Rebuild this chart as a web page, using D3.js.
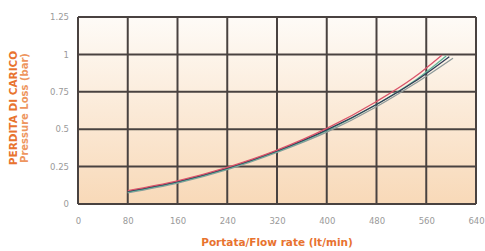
<!DOCTYPE html>
<html>
<head>
<meta charset="utf-8">
<script src="https://cdn.jsdelivr.net/npm/d3@7"></script>
<style>
  body { margin: 0; background: #fff; }
  svg { display: block; }
</style>
</head>
<body>
<div id="chart"></div>
<script>
const xTicks = [0, 80, 160, 240, 320, 400, 480, 560, 640];
const yTicks = [0, 0.25, 0.5, 0.75, 1, 1.25];

// four loss curves (flow lt/min, loss bar)
const redFlow = [80, 160, 240, 320, 400, 480, 540, 585];
const redLoss = [0.09, 0.155, 0.245, 0.36, 0.505, 0.685, 0.845, 0.995];
const greenFlow = [80, 160, 240, 320, 400, 480, 540, 592];
const greenLoss = [0.08, 0.145, 0.235, 0.35, 0.49, 0.665, 0.82, 0.99];
const darkFlow = [80, 160, 240, 320, 400, 480, 540, 597];
const darkLoss = [0.085, 0.15, 0.24, 0.355, 0.495, 0.665, 0.815, 0.985];
const grayFlow = [80, 160, 240, 320, 400, 480, 540, 603];
const grayLoss = [0.075, 0.14, 0.23, 0.345, 0.48, 0.65, 0.80, 0.975];

const series = [
    { flow: grayFlow, loss: grayLoss, color: "#8f9a9a" },
    { flow: greenFlow, loss: greenLoss, color: "#5fb59a" },
    { flow: darkFlow, loss: darkLoss, color: "#2f3d57" },
    { flow: redFlow, loss: redLoss, color: "#d9546a" },
];

const size = { width: 485, height: 251, margin: { top: 17, right: 9, bottom: 47, left: 78 } };

const svg = d3.select("#chart").append("svg")
    .attr("width", size.width)
    .attr("height", size.height);

const x = d3.scaleLinear().domain([0, 640]).range([size.margin.left, size.width - size.margin.right]);
const y = d3.scaleLinear().domain([0, 1.25]).range([size.height - size.margin.bottom, size.margin.top]);

const defs = svg.append("defs");
const grad = defs.append("linearGradient")
    .attr("id", "bg").attr("x1", "0%").attr("y1", "0%").attr("x2", "0%").attr("y2", "100%");
grad.append("stop").attr("offset", "0%").attr("stop-color", "#fefbf7");
grad.append("stop").attr("offset", "100%").attr("stop-color", "#f8d9b8");

defs.append("filter").attr("id", "soft")
    .append("feGaussianBlur").attr("stdDeviation", 0.5);

svg.append("rect")
    .attr("x", x(0)).attr("y", y(1.25))
    .attr("width", x(640) - x(0)).attr("height", y(0) - y(1.25))
    .attr("fill", "url(#bg)");

// grid
const grid = svg.append("g").attr("filter", "url(#soft)");
grid.selectAll("line.v").data(xTicks).enter().append("line")
    .attr("x1", d => x(d)).attr("x2", d => x(d))
    .attr("y1", y(0)).attr("y2", y(1.25))
    .attr("stroke", "#4a4340").attr("stroke-width", 2);
grid.selectAll("line.h").data(yTicks).enter().append("line")
    .attr("x1", x(0)).attr("x2", x(640))
    .attr("y1", d => y(d)).attr("y2", d => y(d))
    .attr("stroke", "#4a4340").attr("stroke-width", 2);

// curves
const line = d3.line().x(d => x(d[0])).y(d => y(d[1])).curve(d3.curveMonotoneX);
svg.append("g").attr("filter", "url(#soft)")
    .selectAll("path").data(series).enter().append("path")
    .attr("d", s => line(s.flow.map((f, i) => [f, s.loss[i]])))
    .attr("fill", "none")
    .attr("stroke", s => s.color)
    .attr("stroke-width", 1.3);

// axes labels
const xAxis = d3.axisBottom(x).tickValues(xTicks).tickSize(0).tickPadding(0)
    .tickFormat(d => d);
svg.append("g").attr("transform", `translate(0, ${y(0) + 14})`).call(xAxis)
    .call(g => g.select(".domain").remove())
    .selectAll("text")
    .attr("font-family", "DejaVu Sans").attr("font-size", 8.5).attr("fill", "#9a9a9a");

const yAxis = d3.axisLeft(y).tickValues(yTicks).tickSize(0).tickPadding(0)
    .tickFormat(d => d);
svg.append("g").attr("transform", `translate(${x(0) - 9}, 0)`).call(yAxis)
    .call(g => g.select(".domain").remove())
    .selectAll("text")
    .attr("font-family", "DejaVu Sans").attr("font-size", 8.5).attr("fill", "#9a9a9a");

svg.append("text")
    .attr("x", (x(0) + x(640)) / 2).attr("y", 246)
    .attr("text-anchor", "middle")
    .attr("font-family", "DejaVu Sans").attr("font-weight", "bold").attr("font-size", 10.5)
    .attr("fill", "#e8732f")
    .text("Portata/Flow rate (lt/min)");

const yLab = svg.append("g").attr("transform", "translate(0, 108) rotate(-90)");
yLab.append("text")
    .attr("x", 0).attr("y", 17)
    .attr("text-anchor", "middle")
    .attr("font-family", "DejaVu Sans").attr("font-weight", "bold").attr("font-size", 10.5)
    .attr("fill", "#e8732f")
    .text("PERDITA DI CARICO");
yLab.append("text")
    .attr("x", 0).attr("y", 28)
    .attr("text-anchor", "middle")
    .attr("font-family", "DejaVu Sans").attr("font-weight", "bold").attr("font-size", 10)
    .attr("fill", "#ee9660")
    .text("Pressure Loss (bar)");
</script>
</body>
</html>
